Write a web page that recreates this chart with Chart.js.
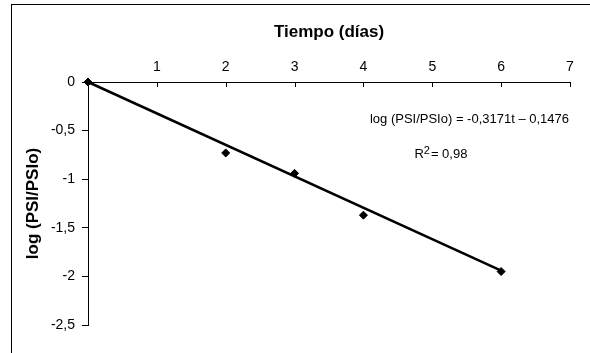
<!DOCTYPE html>
<html>
<head>
<meta charset="utf-8">
<script src="https://cdn.jsdelivr.net/npm/chart.js@4"></script>
<style>
  html,body{margin:0;padding:0;background:#fff;}
</style>
</head>
<body>
<canvas id="chart" width="590" height="353"></canvas>
<script>
// measured points
const days = [0, 2, 3, 4, 6];
const logRatio = [0, -0.73, -0.94, -1.37, -1.95];

// trend line as drawn in the figure
const trendDays = [0, 6];
const trendValues = [0, -1.94];

// axes
const xTickValues = [1, 2, 3, 4, 5, 6, 7];
const yTickValues = [0, -0.5, -1, -1.5, -2, -2.5];
const yTickLabels = ["0", "-0,5", "-1", "-1,5", "-2", "-2,5"];

const equationText = "log (PSI/PSIo) = -0,3171t \u2013 0,1476";
const r2Value = "0,98";

const FONT = "'Liberation Sans', Arial, sans-serif";

const decorations = {
    id: "decorations",
    beforeDraw(chart){
        const ctx = chart.ctx;
        ctx.save();
        ctx.fillStyle = "#fff";
        ctx.fillRect(0, 0, chart.width, chart.height);
        ctx.strokeStyle = "#000";
        ctx.lineWidth = 1;
        ctx.strokeRect(11.5, 4.5, chart.width + 20, chart.height + 20);
        ctx.restore();
    },
    afterDraw(chart){
        const ctx = chart.ctx;
        const x = chart.scales.x;
        const y = chart.scales.y;
        const top = y.getPixelForValue(0);

        ctx.save();
        // tick marks of the time axis point down into the plot
        ctx.strokeStyle = "#000";
        ctx.lineWidth = 1;
        xTickValues.forEach(v => {
            const px = Math.round(x.getPixelForValue(v)) + 0.5;
            ctx.beginPath();
            ctx.moveTo(px, top);
            ctx.lineTo(px, top + 5);
            ctx.stroke();
        });

        // regression text
        ctx.fillStyle = "#000";
        ctx.font = "13px " + FONT;
        ctx.textBaseline = "middle";
        ctx.textAlign = "center";
        ctx.fillText(equationText, x.getPixelForValue(5.54), y.getPixelForValue(-0.38));

        const rx = x.getPixelForValue(4.74);
        const ry = y.getPixelForValue(-0.75);
        ctx.textAlign = "left";
        ctx.fillText("R", rx, ry);
        const rw = ctx.measureText("R").width;
        ctx.font = "11px " + FONT;
        ctx.fillText("2", rx + rw, ry - 4);
        const sw = ctx.measureText("2").width;
        ctx.font = "13px " + FONT;
        ctx.fillText("= " + r2Value, rx + rw + sw + 1, ry);
        ctx.restore();
    }
};

new Chart(document.getElementById("chart"), {
    type: "scatter",
    data: {
        datasets: [
            {
                data: days.map((d, i) => ({x: d, y: logRatio[i]})),
                backgroundColor: "#000",
                borderColor: "#000",
                pointStyle: "rectRot",
                pointRadius: 4,
                pointHoverRadius: 4,
                clip: false,
                order: 0
            },
            {
                type: "line",
                data: trendDays.map((d, i) => ({x: d, y: trendValues[i]})),
                borderColor: "#000",
                borderWidth: 2.5,
                pointRadius: 0,
                fill: false,
                clip: false,
                order: 1
            }
        ]
    },
    options: {
        responsive: false,
        animation: false,
        events: [],
        layout: {padding: {left: 0, top: 0, right: 20, bottom: 28}},
        plugins: {legend: {display: false}, tooltip: {enabled: false}},
        scales: {
            x: {
                type: "linear",
                position: "top",
                min: 0,
                max: 7,
                afterFit: s => { s.height = 82; },
                afterBuildTicks: s => { s.ticks = [0].concat(xTickValues).map(v => ({value: v})); },
                grid: {display: true, drawOnChartArea: false, drawTicks: false},
                border: {display: true, color: "#000", width: 1},
                ticks: {
                    padding: 6,
                    color: "#000",
                    font: {family: FONT, size: 14},
                    maxRotation: 0,
                    callback: v => v === 0 ? "" : String(v)
                },
                title: {
                    display: true,
                    text: "Tiempo (días)",
                    color: "#000",
                    font: {family: FONT, size: 17, weight: "bold"},
                    padding: {top: 22, bottom: 0}
                }
            },
            y: {
                type: "linear",
                min: -2.5,
                max: 0,
                afterFit: s => { s.width = 88; },
                afterBuildTicks: s => { s.ticks = yTickValues.map(v => ({value: v})); },
                grid: {display: true, drawOnChartArea: false, tickLength: 6, color: "#000"},
                border: {display: true, color: "#000", width: 1},
                ticks: {
                    padding: 7,
                    color: "#000",
                    font: {family: FONT, size: 14},
                    callback: v => yTickLabels[yTickValues.indexOf(v)]
                },
                title: {
                    display: true,
                    text: "log (PSI/PSIo)",
                    color: "#000",
                    font: {family: FONT, size: 17, weight: "bold"},
                    padding: {top: 23, bottom: 0}
                }
            }
        }
    },
    plugins: [decorations]
});
</script>
</body>
</html>
